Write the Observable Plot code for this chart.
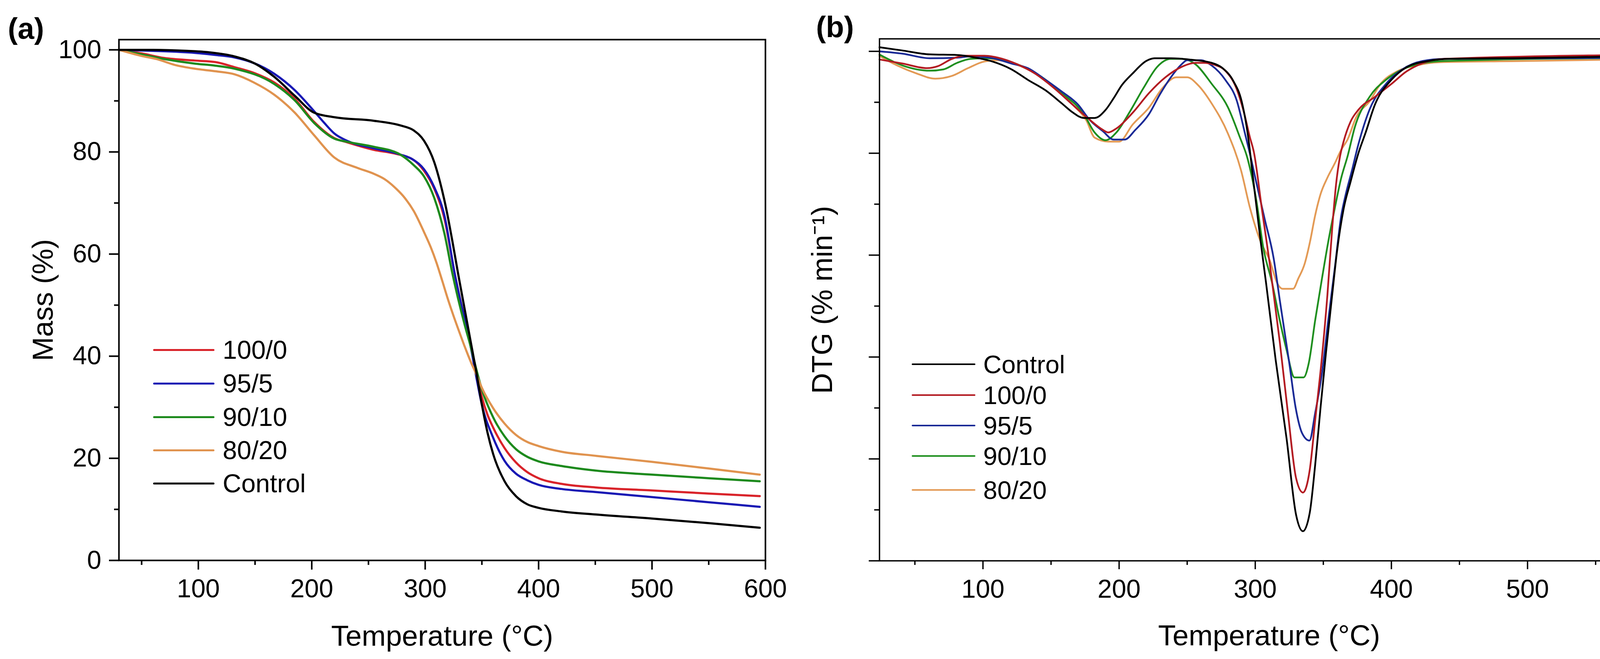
<!DOCTYPE html>
<html>
<head>
<meta charset="utf-8">
<script src="https://cdn.jsdelivr.net/npm/d3@7"></script>
<script src="https://cdn.jsdelivr.net/npm/@observablehq/plot@0.6"></script>
<style>
  html, body { margin: 0; padding: 0; background: #ffffff; }
  #wrap { position: relative; width: 4266px; height: 1688px; overflow: hidden; background: #ffffff;
          font-family: "Liberation Sans", Arial, sans-serif; color: #000; }
  #left { position: absolute; left: 0; top: 0; }
  #right { position: absolute; left: 2040px; top: 0; }
  .panel { position: absolute; font-weight: bold; font-size: 76px; line-height: 1; }
  .leg { position: absolute; display: flex; align-items: center; }
  .leg span { line-height: 1; white-space: nowrap; }
</style>
</head>
<body>
<div id="wrap">
  <div id="left"></div>
  <div id="right"></div>
</div>
<script>
// ---------- Data ----------
// (a) TGA: mass (%) vs temperature (°C)
const tgaSeries = ["100/0", "95/5", "90/10", "80/20", "Control"];
const tgaColors = ["#d9232a", "#1818b4", "#1d8a1d", "#e0934f", "#000000"];

const tga_100_0 = [[30,100],[50,99.3],[70,98.4],[97,97.9],[115,97.6],[132,96.6],[150,95.4],[167,93.6],[185,90.4],[202,85.9],[220,82.7],[231,81.9],[255,80.4],[273,79.7],[290,78.4],[299,76.3],[308,72.8],[317,66.9],[326,56.2],[335,47],[340,42],[345,37],[350,32],[355,28.5],[360,26],[370,22],[380,19.2],[390,17.3],[400,16.1],[420,15],[450,14.3],[500,13.7],[550,13.1],[595,12.6]];
const tga_95_5 = [[30,100],[60,99.8],[97,99.4],[115,99.0],[132,98.5],[149,97.4],[167,95.3],[185,92.1],[202,88],[211,85.7],[220,83.6],[231,82.2],[255,80.7],[278,79.5],[290,78.4],[299,76.6],[308,73.1],[317,67.5],[326,56.2],[335,47],[340,42],[345,36],[350,30.5],[360,24],[370,19.5],[380,17],[390,15.7],[400,14.8],[420,14],[450,13.4],[500,12.4],[550,11.4],[595,10.5]];
const tga_90_10 = [[30,100],[50,99.1],[70,98.2],[97,97.3],[115,96.9],[132,96.3],[167,93.3],[185,90.1],[202,85.7],[220,82.6],[231,82],[255,81],[278,79.5],[290,77.4],[299,75.2],[308,71],[317,64],[324,56.2],[335,46],[340,42],[345,37.5],[350,33.5],[360,28],[370,24.3],[380,21.8],[390,20.3],[400,19.4],[420,18.5],[450,17.6],[500,16.8],[550,16.1],[595,15.5]];
const tga_80_20 = [[30,100],[50,98.8],[63,98.2],[80,97],[97,96.3],[115,95.8],[132,95.2],[149,93.6],[167,91.2],[185,87.7],[202,83.3],[220,78.9],[240,76.9],[255,75.7],[264,74.7],[273,73.1],[282,71],[290,68.4],[299,64.3],[305,61.3],[310,58.3],[315,54.8],[320,51.2],[325,47.9],[330,44.8],[335,41.8],[340,39],[345,36.5],[350,33.8],[360,29.8],[370,26.8],[380,24.6],[390,23.2],[400,22.4],[420,21.3],[450,20.5],[500,19.3],[550,18],[595,16.8]];
const tga_control = [[30,100],[60,100],[90,99.8],[110,99.5],[132,98.7],[150,97.3],[167,94.7],[185,91],[202,87.7],[220,86.8],[255,86.1],[278,85.2],[290,84.2],[299,82.2],[308,78],[313,74.2],[319,68.4],[324,62.5],[329,56.2],[335,49],[340,43],[345,37],[350,30.5],[355,25],[360,20.8],[370,15.5],[380,12.6],[390,11],[400,10.3],[420,9.6],[450,9],[500,8.2],[550,7.3],[595,6.4]];

const tgaXMajor = [100, 200, 300, 400, 500, 600];
const tgaXMinor = [50, 150, 250, 350, 450, 550];
const tgaYMajor = [0, 20, 40, 60, 80, 100];
const tgaYMinor = [10, 30, 50, 70, 90];

// (b) DTG (arbitrary units, axis unlabeled) vs temperature (°C)
const dtgSeries = ["Control", "100/0", "95/5", "90/10", "80/20"];
const dtgColors = ["#000000", "#b31b22", "#1a2a96", "#1f8f1f", "#e39a55"];

const dtg_control = [[24,0.04],[40,0.01],[61,-0.03],[81,-0.036],[97,-0.068],[107,-0.10],[121,-0.177],[133,-0.28],[146,-0.383],[158,-0.512],[166,-0.60],[174,-0.654],[182,-0.654],[190,-0.576],[196,-0.46],[202,-0.332],[210,-0.216],[220,-0.094],[226,-0.068],[238,-0.068],[252,-0.081],[268,-0.113],[276,-0.165],[284,-0.293],[290,-0.49],[295,-0.86],[298,-1.2],[300.5,-1.48],[304,-1.87],[308,-2.28],[315,-3.03],[323,-3.80],[330,-4.55],[335,-4.71],[340,-4.53],[344,-4.06],[348,-3.49],[352,-2.95],[356.5,-2.39],[360,-1.97],[365,-1.54],[370,-1.28],[376,-0.99],[381,-0.80],[388,-0.52],[400,-0.28],[411,-0.157],[427,-0.095],[443,-0.074],[497,-0.066],[596,-0.045]];
const dtg_100_0 = [[24,-0.08],[41,-0.12],[59,-0.165],[67,-0.145],[77,-0.075],[87,-0.043],[101,-0.043],[111,-0.062],[125,-0.126],[138,-0.216],[152,-0.358],[166,-0.525],[178,-0.667],[188,-0.77],[192,-0.796],[198,-0.757],[210,-0.602],[222,-0.409],[234,-0.255],[246,-0.152],[256,-0.113],[262,-0.113],[270,-0.132],[278,-0.19],[286,-0.358],[292,-0.615],[296,-0.84],[299,-0.99],[305,-1.56],[310.6,-2.08],[318,-2.85],[324,-3.55],[330,-4.19],[335,-4.33],[340,-4.11],[344,-3.62],[349,-3.0],[353,-2.39],[356.5,-1.74],[359.4,-1.30],[362,-1.05],[365,-0.88],[370,-0.69],[376,-0.57],[388,-0.446],[400,-0.32],[411,-0.198],[423,-0.116],[439,-0.074],[596,-0.033]];
const dtg_95_5 = [[24,0],[41,-0.023],[61,-0.068],[81,-0.062],[91,-0.049],[105,-0.062],[121,-0.12],[133,-0.165],[146,-0.28],[158,-0.396],[170,-0.525],[178,-0.667],[188,-0.783],[196,-0.866],[204,-0.866],[212,-0.77],[222,-0.615],[230,-0.422],[238,-0.255],[246,-0.126],[250,-0.087],[260,-0.087],[268,-0.139],[278,-0.28],[286.5,-0.487],[292.5,-0.809],[296,-1.0],[301,-1.3],[307,-1.65],[313.5,-2.03],[318,-2.44],[325,-3.06],[329.7,-3.50],[334.5,-3.75],[339.8,-3.82],[344,-3.55],[349,-3.16],[353.6,-2.64],[358.4,-2.13],[363.2,-1.61],[366,-1.43],[371,-1.17],[375.6,-0.92],[384,-0.57],[396,-0.32],[408,-0.178],[423,-0.095],[439,-0.074],[596,-0.062]];
const dtg_90_10 = [[24,-0.032],[41,-0.139],[61,-0.19],[71,-0.177],[81,-0.113],[91,-0.074],[101,-0.068],[111,-0.074],[125,-0.126],[142,-0.242],[158,-0.41],[174,-0.615],[182,-0.796],[190,-0.873],[198,-0.796],[208,-0.59],[218,-0.358],[228,-0.152],[238,-0.074],[246,-0.074],[256,-0.126],[268,-0.319],[280,-0.551],[288.6,-0.84],[294.3,-1.05],[301,-1.48],[305.8,-1.92],[312.5,-2.28],[318,-2.64],[323,-2.93],[328.8,-3.20],[335.5,-3.20],[339.3,-3.06],[344,-2.64],[349,-2.23],[353.6,-1.87],[358.4,-1.54],[363,-1.25],[368,-1.02],[373,-0.75],[384,-0.446],[396,-0.28],[408,-0.178],[423,-0.116],[439,-0.095],[596,-0.062]];
const dtg_80_20 = [[24,-0.045],[37,-0.139],[51,-0.216],[65,-0.268],[77,-0.242],[89,-0.165],[101,-0.10],[111,-0.087],[121,-0.113],[133,-0.177],[150,-0.319],[166,-0.525],[176,-0.68],[182,-0.847],[192,-0.886],[200,-0.886],[210,-0.718],[222,-0.551],[232,-0.358],[242,-0.255],[250,-0.255],[258,-0.332],[268,-0.512],[280,-0.809],[289.6,-1.17],[296.2,-1.54],[304,-1.87],[310.6,-2.05],[316.3,-2.28],[320,-2.33],[327.8,-2.33],[331.6,-2.23],[336.4,-2.08],[340.2,-1.87],[344,-1.61],[348,-1.40],[353,-1.24],[358.4,-1.10],[363,-0.97],[368,-0.86],[374,-0.65],[384,-0.49],[392,-0.32],[404,-0.198],[419,-0.136],[435,-0.107],[497,-0.095],[596,-0.074]];

const dtgXMajor = [100, 200, 300, 400, 500];
const dtgXMinor = [50, 150, 250, 350, 450, 550];
const dtgYMajor = [0, -1, -2, -3, -4, -5];
const dtgYMinor = [-0.5, -1.5, -2.5, -3.5, -4.5];

// ---------- Build tables ----------
const toRows = (name, arr) => arr.map(([t, v]) => ({s: name, t, v}));
const tgaRows = [
  ...toRows("100/0", tga_100_0), ...toRows("95/5", tga_95_5), ...toRows("90/10", tga_90_10),
  ...toRows("80/20", tga_80_20), ...toRows("Control", tga_control)
];
const dtgRows = [
  ...toRows("80/20", dtg_80_20), ...toRows("90/10", dtg_90_10), ...toRows("95/5", dtg_95_5),
  ...toRows("100/0", dtg_100_0), ...toRows("Control", dtg_control)
];

const FONT = "'Liberation Sans', Arial, Helvetica, sans-serif";
const NOARROW = {labelArrow: "none"};

// ---------- (a) TGA ----------
const plotA = Plot.plot({
  width: 2040, height: 1688,
  marginLeft: 304, marginRight: 81, marginTop: 101, marginBottom: 253,
  style: {fontFamily: FONT, fontSize: "66px", color: "#000", background: "#fff", overflow: "visible"},
  x: {domain: [30, 600], ...NOARROW},
  y: {domain: [0, 102], ...NOARROW},
  color: {domain: tgaSeries, range: tgaColors},
  marks: [
    Plot.line(tgaRows, {x: "t", y: "v", z: "s", stroke: "s", strokeWidth: 5.5, curve: "monotone-x"}),
    Plot.frame({stroke: "#000", strokeWidth: 4}),
    Plot.axisX({ticks: tgaXMajor, tickSize: 24, tickPadding: 24, strokeWidth: 4, fontSize: 66, label: null}),
    Plot.axisX({ticks: tgaXMinor, tickSize: 12, strokeWidth: 4, tickFormat: () => "", label: null}),
    Plot.axisX({ticks: [], label: "Temperature (°C)", labelAnchor: "center", labelOffset: 218, fontSize: 74, ...NOARROW}),
    Plot.axisY({ticks: tgaYMajor, tickSize: 25, tickPadding: 20, strokeWidth: 4, fontSize: 66, label: null}),
    Plot.axisY({ticks: tgaYMinor, tickSize: 12, strokeWidth: 4, tickFormat: () => "", label: null}),
    Plot.axisY({ticks: [], label: "Mass (%)", labelAnchor: "center", labelOffset: 222, fontSize: 74, ...NOARROW})
  ]
});
document.getElementById("left").appendChild(plotA);

// ---------- (b) DTG ----------
const plotB = Plot.plot({
  width: 2226, height: 1688,
  marginLeft: 211, marginRight: 20, marginTop: 99, marginBottom: 252,
  style: {fontFamily: FONT, fontSize: "66px", color: "#000", background: "#fff", overflow: "visible"},
  x: {domain: [24, 596.4], ...NOARROW},
  y: {domain: [-5, 0.1226], ...NOARROW},
  color: {domain: dtgSeries, range: dtgColors},
  marks: [
    Plot.line(dtgRows, {x: "t", y: "v", z: "s", stroke: "s", strokeWidth: 4.5, curve: "monotone-x"}),
    Plot.frame({stroke: "#000", strokeWidth: 3.5}),
    Plot.axisX({ticks: dtgXMajor, tickSize: 22, tickPadding: 26, strokeWidth: 3.5, fontSize: 66, label: null}),
    Plot.axisX({ticks: dtgXMinor, tickSize: 11, strokeWidth: 3.5, tickFormat: () => "", label: null}),
    Plot.axisX({ticks: [], label: "Temperature (°C)", labelAnchor: "center", labelOffset: 216, fontSize: 74, ...NOARROW}),
    Plot.axisY({ticks: dtgYMajor, tickSize: 27, strokeWidth: 3.5, tickFormat: () => "", label: null}),
    Plot.axisY({ticks: dtgYMinor, tickSize: 13, strokeWidth: 3.5, tickFormat: () => "", label: null}),
    Plot.axisY({ticks: [], label: "DTG (% min⁻¹)", labelAnchor: "center", labelOffset: 174, fontSize: 74, ...NOARROW})
  ]
});
document.getElementById("right").appendChild(plotB);

// ---------- Panel labels and legends (HTML overlays) ----------
const wrap = document.getElementById("wrap");
function addPanel(txt, left, top) {
  const d = document.createElement("div");
  d.className = "panel";
  d.style.left = left + "px"; d.style.top = top + "px";
  d.textContent = txt;
  wrap.appendChild(d);
}
addPanel("(a)", 20, 35);
addPanel("(b)", 2089, 31);

function addLegend(names, colors, rowsY, x0, swatchW, gap, thick, fs) {
  names.forEach((n, i) => {
    const row = document.createElement("div");
    row.className = "leg";
    row.style.left = x0 + "px";
    row.style.top = (rowsY[i] - fs / 2) + "px";
    row.style.height = fs + "px";
    const sw = document.createElement("div");
    sw.style.width = swatchW + "px"; sw.style.height = thick + "px";
    sw.style.background = colors[i]; sw.style.marginRight = gap + "px";
    sw.style.borderRadius = (thick / 2) + "px";
    const tx = document.createElement("span");
    tx.style.fontSize = fs + "px";
    tx.textContent = n;
    row.appendChild(sw); row.appendChild(tx);
    wrap.appendChild(row);
  });
}
const legendARows = [896, 982, 1068, 1153, 1238];
const legendBRows = [933, 1012, 1090, 1168, 1255];
addLegend(tgaSeries, tgaColors, legendARows, 392, 157, 21, 5, 66);
addLegend(dtgSeries, dtgColors, legendBRows, 2334, 163, 20, 4, 65);
</script>
</body>
</html>
